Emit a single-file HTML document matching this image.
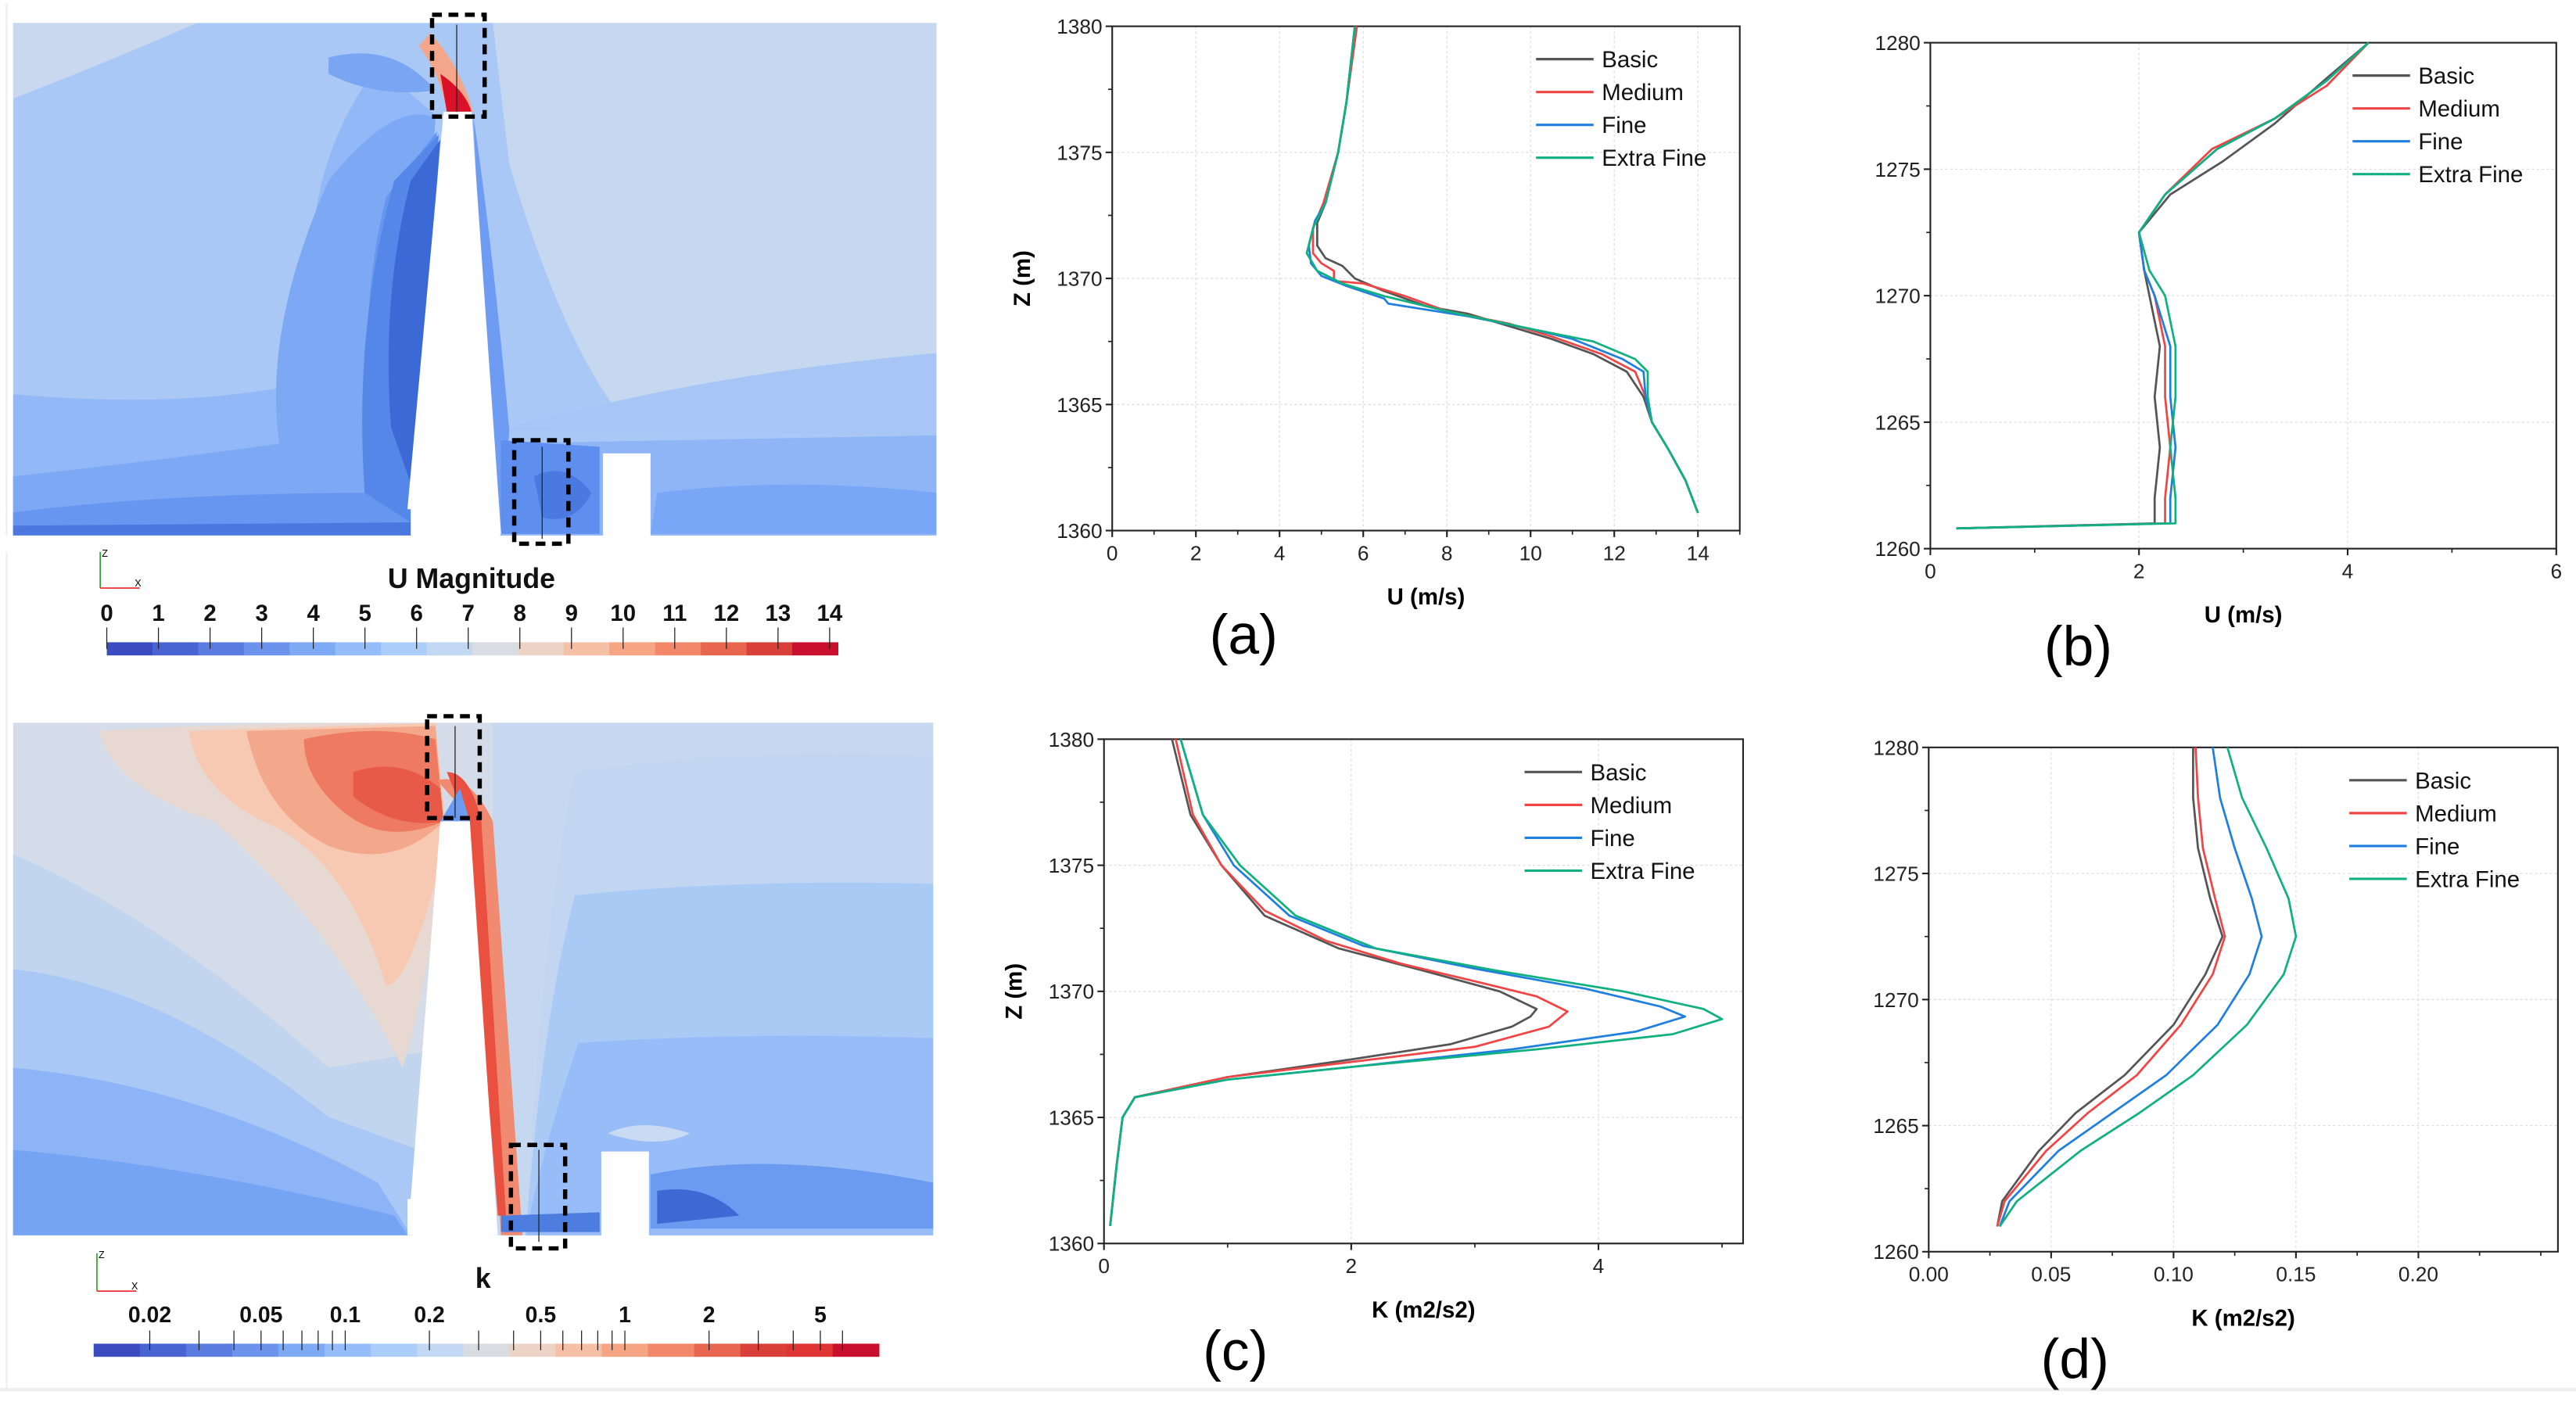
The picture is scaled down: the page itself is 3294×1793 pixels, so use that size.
<!DOCTYPE html>
<html><head><meta charset="utf-8"><style>
html,body{margin:0;padding:0;background:#fff;}
svg{display:block;}
text{font-family:"Liberation Sans",sans-serif;}
</style></head><body>
<svg id="root" width="3294" height="1793" viewBox="0 0 1568 853.5" preserveAspectRatio="none" xmlns="http://www.w3.org/2000/svg">
<rect x="0" y="0" width="1568" height="853.5" fill="#fff"/>
<line x1="4" y1="2" x2="4" y2="846" stroke="#eee" stroke-width="1"/>
<line x1="0" y1="846" x2="1568" y2="846" stroke="#eee" stroke-width="2"/>

<!-- TOP CONTOUR (U) -->
<g>
<rect x="8" y="14" width="562" height="314" fill="#a9c8f6"/>
<path d="M8 14 L120 14 Q60 40 8 60 Z" fill="#c9d8ee"/>
<path d="M300 14 L570 14 L570 215 Q460 225 372 245 Q340 200 310 100 Z" fill="#c5d8f0"/>
<path d="M372 245 Q460 225 570 215 L570 265 L300 262 Z" fill="#a7c6f5"/>
<path d="M305 270 L570 265 L570 328 L305 328 Z" fill="#8fb5f7"/>
<path d="M400 300 Q480 290 570 300 L570 325 L396 325 Z" fill="#79a6f6"/>
<path d="M8 240 Q120 250 200 230 Q170 120 230 40 L265 70 L250 328 L8 328 Z" fill="#93b8f8"/>
<path d="M8 290 Q100 280 170 270 Q160 200 200 110 Q240 60 265 72 L250 328 L8 328 Z" fill="#7ca8f4"/>
<path d="M8 312 Q100 300 230 300 Q215 200 235 120 L266 80 L250 328 L8 328 Z" fill="#6796f0"/>
<path d="M222 300 Q215 200 240 110 L267 82 L250 318 Z" fill="#5587e8"/>
<path d="M238 260 Q232 180 250 110 L268 85 L252 300 Z" fill="#3b6ad6"/>
<path d="M8 320 L250 318 L250 328 L8 328 Z" fill="#4a78de"/>
<path d="M288 70 Q300 150 310 262 L305 328 L300 328 Z" fill="#6d9cf2"/>
<path d="M305 268 L365 272 L365 325 L305 325 Z" fill="#5f8fee"/>
<path d="M325 290 Q345 280 360 300 Q350 320 330 315 Z" fill="#4a7ae0"/>
<path d="M200 35 Q240 25 265 55 Q230 60 200 45 Z" fill="#7aa5f2"/>
<path d="M262 20 Q280 40 288 68 L272 68 Q268 45 255 28 Z" fill="#f3a68a"/>
<path d="M268 45 Q283 55 287 68 L272 68 Z" fill="#d9122a"/>
<path d="M270 68 L287 68 L305 325 L303 328 L250 328 L250 310 L248 310 Z" fill="#fff"/>
<rect x="367" y="276" width="29" height="52" fill="#fff"/>
<rect x="0" y="326" width="580" height="10" fill="#fff"/>
<line x1="278" y1="15" x2="278" y2="68" stroke="#222" stroke-width="0.6"/>
<line x1="330" y1="272" x2="330" y2="328" stroke="#222" stroke-width="0.6"/>
<rect x="263" y="9" width="32" height="62" fill="none" stroke="#000" stroke-width="2.6" stroke-dasharray="6,4"/>
<rect x="313" y="268" width="33" height="63" fill="none" stroke="#000" stroke-width="2.6" stroke-dasharray="6,4"/>
</g>
<g>
<line x1="61" y1="358" x2="61" y2="336" stroke="#2a2" stroke-width="0.8"/>
<line x1="61" y1="358" x2="85" y2="358" stroke="#e22" stroke-width="0.8"/>
<text x="62" y="339" font-size="6">Z</text><text x="82" y="357" font-size="6">X</text>
</g>
<text x="287" y="358" font-size="17" font-weight="bold" text-anchor="middle" fill="#111">U Magnitude</text>
<g id="cbar1"></g>

<!-- BOTTOM CONTOUR (k) -->
<g>
<rect x="8" y="440" width="560" height="312" fill="#d3dce8"/>
<path d="M300 440 L568 440 L568 752 L300 752 Z" fill="#c6d8f0"/>
<path d="M350 470 Q450 455 568 460 L568 752 L320 752 Q330 560 350 470 Z" fill="#c2d6f2"/>
<path d="M350 545 Q450 535 568 538 L568 752 L320 752 Q330 620 350 545 Z" fill="#aacaf6"/>
<path d="M352 635 Q450 628 568 632 L568 752 L320 752 Q330 700 352 635 Z" fill="#97bcf8"/>
<path d="M396 715 Q470 700 568 720 L568 748 L396 748 Z" fill="#6b9bf0"/>
<path d="M400 725 Q430 720 450 740 L400 745 Z" fill="#3e68d3"/>
<path d="M370 690 Q390 680 420 690 Q400 700 370 690 Z" fill="#c9dbf2"/>
<path d="M8 520 Q100 560 200 650 L260 640 L250 752 L8 752 Z" fill="#c2d5ef"/>
<path d="M8 590 Q100 600 200 680 L255 700 L250 752 L8 752 Z" fill="#a9c8f6"/>
<path d="M8 650 Q120 660 230 720 L250 752 L8 752 Z" fill="#8db4f7"/>
<path d="M8 700 Q120 710 240 740 L248 752 L8 752 Z" fill="#76a4f4"/>
<path d="M60 445 Q140 440 240 440 L270 520 Q260 600 245 650 Q200 560 130 500 Q70 480 60 445 Z" fill="#e8d8d2"/>
<path d="M115 445 L265 440 L272 510 Q250 600 235 600 Q210 520 160 500 Q120 480 115 445 Z" fill="#f7c9b3"/>
<path d="M150 445 L265 442 L270 500 Q240 530 200 515 Q160 495 150 445 Z" fill="#f3a78b"/>
<path d="M185 450 Q230 440 265 450 L270 500 Q235 515 210 495 Q185 475 185 450 Z" fill="#ee7b61"/>
<path d="M215 470 Q245 460 268 480 L270 500 Q240 505 215 485 Z" fill="#e85a48"/>
<path d="M266 475 Q286 470 300 500 L318 752 L305 752 L288 500 Z" fill="#f08a70"/>
<path d="M272 470 Q286 470 293 500 L308 740 L303 740 L284 500 Z" fill="#e9503f"/>
<path d="M268 500 L280 480 L286 500 Z" fill="#6b9bf0"/>
<path d="M268 500 L286 500 L303 752 L248 752 L248 730 L250 730 Z" fill="#fff"/>
<rect x="366" y="701" width="29" height="52" fill="#fff"/>
<path d="M305 740 L365 738 L365 750 L305 750 Z" fill="#4e7de0"/>
<line x1="277" y1="442" x2="277" y2="498" stroke="#222" stroke-width="0.6"/>
<line x1="328" y1="700" x2="328" y2="756" stroke="#222" stroke-width="0.6"/>
<rect x="260" y="436" width="32" height="62" fill="none" stroke="#000" stroke-width="2.6" stroke-dasharray="6,4"/>
<rect x="311" y="697" width="33" height="63" fill="none" stroke="#000" stroke-width="2.6" stroke-dasharray="6,4"/>
</g>
<g>
<line x1="59" y1="786" x2="59" y2="763" stroke="#2a2" stroke-width="0.8"/>
<line x1="59" y1="786" x2="83" y2="786" stroke="#e22" stroke-width="0.8"/>
<text x="60" y="766" font-size="6">Z</text><text x="80" y="785" font-size="6">X</text>
</g>
<text x="294" y="784" font-size="17" font-weight="bold" text-anchor="middle" fill="#111">k</text>
<g id="cbar2"></g>

<g id="charts"></g>
<text x="757" y="398" font-size="34" text-anchor="middle">(a)</text>
<text x="1265" y="405" font-size="34" text-anchor="middle">(b)</text>
<text x="752" y="834" font-size="34" text-anchor="middle">(c)</text>
<text x="1263" y="839" font-size="34" text-anchor="middle">(d)</text>
</svg>
<script>
const NS="http://www.w3.org/2000/svg";
// ---- data ----
const seriesNames=["Basic","Medium","Fine","Extra Fine"];
const seriesColors=["#555555","#f04545","#1f7fe0","#10b080"];
const aBasic=[[14,1360.7],[13.7,1362],[13.3,1363.2],[12.9,1364.3],[12.7,1365.3],[12.3,1366.3],[11.5,1367],[10.5,1367.6],[9.5,1368.1],[8.5,1368.6],[7.5,1368.9],[6.5,1369.5],[5.8,1370],[5.5,1370.5],[5.1,1370.8],[4.9,1371.3],[4.9,1372.2],[5.1,1373],[5.4,1375],[5.6,1377],[5.8,1380]];
const aMedium=[[14,1360.7],[13.7,1362],[13.3,1363.2],[12.9,1364.3],[12.75,1365.3],[12.5,1366.3],[11.7,1367],[10.5,1367.7],[9.5,1368.2],[8,1368.7],[7,1369.3],[6,1369.8],[5.3,1369.9],[5.3,1370.3],[5,1370.6],[4.8,1371],[4.8,1372],[5.05,1373],[5.4,1375],[5.6,1377],[5.85,1380]];
const aFine=[[14,1360.7],[13.7,1362],[13.3,1363.2],[12.9,1364.3],[12.75,1365.3],[12.7,1366.3],[12.2,1366.8],[11,1367.6],[10,1368],[8.5,1368.5],[6.6,1369],[6.5,1369.2],[5.6,1369.7],[5,1370.1],[4.75,1370.6],[4.7,1371.3],[4.85,1372.3],[5.1,1373],[5.4,1375],[5.6,1377],[5.8,1380]];
const aExtra=[[14,1360.7],[13.7,1362],[13.3,1363.2],[12.9,1364.3],[12.8,1365.3],[12.8,1366.3],[12.5,1366.8],[11.5,1367.5],[10,1368],[8,1368.7],[6.5,1369.3],[5.5,1369.8],[4.9,1370.3],[4.65,1371],[4.8,1372],[5.1,1373],[5.4,1375],[5.6,1377],[5.8,1380]];
const bBasic=[[0.25,1260.8],[2.15,1261],[2.15,1262],[2.2,1264],[2.15,1266],[2.2,1268],[2.1,1270],[2.05,1271],[2.0,1272.5],[2.3,1274],[2.8,1275.3],[3.3,1276.8],[3.8,1278.6],[4.2,1280]];
const bMedium=[[0.25,1260.8],[2.25,1261],[2.25,1262],[2.3,1264],[2.25,1266],[2.25,1268],[2.15,1270],[2.05,1271],[2.0,1272.5],[2.25,1274],[2.7,1275.8],[3.3,1277],[3.8,1278.3],[4.2,1280]];
const bFine=[[0.25,1260.8],[2.3,1261],[2.3,1262],[2.35,1264],[2.3,1266],[2.3,1268],[2.15,1270],[2.05,1271],[2.0,1272.5],[2.25,1274],[2.75,1275.8],[3.3,1277],[3.8,1278.5],[4.2,1280]];
const bExtra=[[0.25,1260.8],[2.35,1261],[2.35,1262],[2.3,1264],[2.35,1266],[2.35,1268],[2.25,1270],[2.1,1271],[2.0,1272.5],[2.25,1274],[2.75,1275.8],[3.3,1277],[3.8,1278.5],[4.2,1280]];
const cBasic=[[0.05,1360.7],[0.1,1363],[0.15,1365],[0.25,1365.8],[1,1366.6],[2,1367.3],[2.8,1367.9],[3.3,1368.6],[3.45,1369],[3.5,1369.3],[3.2,1370],[2.6,1370.8],[1.9,1371.7],[1.3,1373],[0.95,1375],[0.7,1377],[0.55,1380]];
const cMedium=[[0.05,1360.7],[0.1,1363],[0.15,1365],[0.25,1365.8],[1,1366.6],[2,1367.2],[3,1367.8],[3.6,1368.6],[3.75,1369.2],[3.5,1369.8],[3,1370.4],[2.4,1371.1],[1.8,1372],[1.3,1373.2],[0.95,1375],[0.72,1377],[0.58,1380]];
const cFine=[[0.05,1360.7],[0.1,1363],[0.15,1365],[0.25,1365.8],[1,1366.5],[2,1367],[3.3,1367.7],[4.3,1368.4],[4.7,1369],[4.5,1369.4],[3.9,1370.1],[3,1370.9],[2.1,1371.8],[1.5,1373],[1.05,1375],[0.8,1377],[0.62,1380]];
const cExtra=[[0.05,1360.7],[0.1,1363],[0.15,1365],[0.25,1365.8],[1,1366.5],[2,1367],[3.5,1367.7],[4.6,1368.3],[5.0,1368.9],[4.85,1369.3],[4.2,1370],[3.2,1370.8],[2.2,1371.7],[1.55,1373],[1.1,1375],[0.8,1377],[0.62,1380]];
const dBasic=[[0.028,1261],[0.03,1262],[0.045,1264],[0.06,1265.5],[0.08,1267],[0.1,1269],[0.113,1271],[0.12,1272.5],[0.115,1274],[0.11,1276],[0.108,1278],[0.108,1280]];
const dMedium=[[0.028,1261],[0.031,1262],[0.048,1264],[0.065,1265.5],[0.085,1267],[0.103,1269],[0.116,1271],[0.121,1272.5],[0.117,1274],[0.112,1276],[0.11,1278],[0.109,1280]];
const dFine=[[0.029,1261],[0.033,1262],[0.053,1264],[0.075,1265.5],[0.097,1267],[0.118,1269],[0.131,1271],[0.136,1272.5],[0.132,1274],[0.125,1276],[0.119,1278],[0.116,1280]];
const dExtra=[[0.029,1261],[0.036,1262],[0.062,1264],[0.086,1265.5],[0.108,1267],[0.13,1269],[0.145,1271],[0.15,1272.5],[0.147,1274],[0.138,1276],[0.128,1278],[0.122,1280]];
const aXTicks=["0","2","4","6","8","10","12","14"];
const bXTicks=["0","2","4","6"];
const cXTicks=["0","2","4"];
const dXTicks=["0.00","0.05","0.10","0.15","0.20"];
const zTicksA=["1360","1365","1370","1375","1380"];
const zTicksB=["1260","1265","1270","1275","1280"];
const uBarLabels=["0","1","2","3","4","5","6","7","8","9","10","11","12","13","14"];
const kBarLabels=["0.02","0.05","0.1","0.2","0.5","1","2","5"];
const kBarValues=[0.02,0.05,0.1,0.2,0.5,1,2,5];

function el(tag,attrs,parent){const e=document.createElementNS(NS,tag);for(const k in attrs)e.setAttribute(k,attrs[k]);parent.appendChild(e);return e;}

const charts=[
 {id:"a",x0:677,x1:1059,y0:16,y1:323,xmin:0,xmax:15,ymin:1360,ymax:1380,xt:aXTicks,xminor:1,yt:zTicksA,data:[aBasic,aMedium,aFine,aExtra],xl:"U (m/s)",lx:935,ly:36,ylab:true},
 {id:"b",x0:1175,x1:1556,y0:26,y1:334,xmin:0,xmax:6,ymin:1260,ymax:1280,xt:bXTicks,xminor:1,yt:zTicksB,data:[bBasic,bMedium,bFine,bExtra],xl:"U (m/s)",lx:1432,ly:46,ylab:false},
 {id:"c",x0:672,x1:1061,y0:450,y1:757,xmin:0,xmax:5.17,ymin:1360,ymax:1380,xt:cXTicks,xminor:1,yt:zTicksA,data:[cBasic,cMedium,cFine,cExtra],xl:"K (m2/s2)",lx:928,ly:470,ylab:true},
 {id:"d",x0:1174,x1:1557,y0:455,y1:762,xmin:0,xmax:0.257,ymin:1260,ymax:1280,xt:dXTicks,xminor:0.025,yt:zTicksB,data:[dBasic,dMedium,dFine,dExtra],xl:"K (m2/s2)",lx:1430,ly:475,ylab:false}
];
const root=document.getElementById("charts");
charts.forEach(c=>{
 const g=el("g",{},root);
 
 
 const sx=v=>c.x0+(v-c.xmin)/(c.xmax-c.xmin)*(c.x1-c.x0);
 const sy=v=>c.y1-(v-c.ymin)/(c.ymax-c.ymin)*(c.y1-c.y0);
 c.yt.forEach(t=>{const v=+t;const ln=el("line",{x1:c.x0,x2:c.x1,y1:sy(v),y2:sy(v),stroke:"#ddd","stroke-width":0.6,"stroke-dasharray":"1.5,1.5"},g);});
 c.xt.forEach(t=>{const v=+t;const ln=el("line",{x1:sx(v),x2:sx(v),y1:c.y0,y2:c.y1,stroke:"#ddd","stroke-width":0.6,"stroke-dasharray":"1.5,1.5"},g);});
 const fr=el("rect",{x:c.x0,y:c.y0,width:c.x1-c.x0,height:c.y1-c.y0,fill:"none",stroke:"#222","stroke-width":1},g);
 
 
 c.xt.forEach(t=>{const v=+t;el("line",{x1:sx(v),x2:sx(v),y1:c.y1,y2:c.y1+4,stroke:"#222","stroke-width":1},g);
  const tx=el("text",{x:sx(v),y:c.y1+18,"font-size":12.5,"text-anchor":"middle",fill:"#222"},g);tx.textContent=t;
  
  });
 for(let v=c.xmin;v<=c.xmax+1e-9;v+=c.xminor){el("line",{x1:sx(v),x2:sx(v),y1:c.y1,y2:c.y1+2.5,stroke:"#222","stroke-width":0.8},g);}
 c.yt.forEach((t,i)=>{const v=+t;el("line",{x1:c.x0-4,x2:c.x0,y1:sy(v),y2:sy(v),stroke:"#222","stroke-width":1},g);
  const tx=el("text",{x:c.x0-6,y:sy(v)+4.5,"font-size":12.5,"text-anchor":"end",fill:"#222"},g);tx.textContent=t;
  
  
  if(i<c.yt.length-1)el("line",{x1:c.x0-2.5,x2:c.x0,y1:sy(v+2.5),y2:sy(v+2.5),stroke:"#222","stroke-width":0.8},g);});
 const xt=el("text",{x:(c.x0+c.x1)/2,y:c.y1+45,"font-size":14,"font-weight":"bold","text-anchor":"middle"},g);
 xt.textContent=c.xl;
 
 
 if(c.ylab){const yt=el("text",{x:0,y:0,"font-size":14,"font-weight":"bold","text-anchor":"middle",transform:`translate(${c.x0-50},${(c.y0+c.y1)/2}) rotate(-90)`},g);
  yt.textContent="Z (m)";
  
  }
 c.data.forEach((s,i)=>{const p=el("polyline",{points:s.map(d=>sx(d[0])+","+sy(d[1])).join(" "),fill:"none",stroke:seriesColors[i],"stroke-width":1.3,"stroke-linejoin":"round"},g);
  
  
  const ll=el("line",{x1:c.lx,x2:c.lx+35,y1:c.ly+i*20,y2:c.ly+i*20,stroke:seriesColors[i],"stroke-width":1.5},g);
  
  
  const lt=el("text",{x:c.lx+40,y:c.ly+i*20+5,"font-size":14,fill:"#111"},g);lt.textContent=seriesNames[i];
  
  });
});
const uCols=["#3b4cc0","#4a63d3","#5a7be0","#6b93ec","#7eaaf5","#94bdf9","#abcdfa","#c2d7f2","#d9dce2","#ecd3c6","#f6c0a6","#f6a584","#f2876a","#e8664e","#d9403a","#c8102e"];
const g1=document.getElementById("cbar1");
const bx0=65,bx1=510,nU=uCols.length;
uCols.forEach((c,i)=>{const r=el("rect",{x:bx0+i*(bx1-bx0)/nU,y:391,width:(bx1-bx0)/nU+0.3,height:8,fill:c},g1);});
uBarLabels.forEach((t,i)=>{const x=bx0+(+t)/14*(505-bx0);
 el("line",{x1:x,x2:x,y1:382,y2:395,stroke:"#222","stroke-width":0.6},g1);
 const tx=el("text",{x:x,y:378,"font-size":14,"font-weight":"bold","text-anchor":"middle",fill:"#111"},g1);tx.textContent=t;
 
 });
const kCols=["#3b4cc0","#4a63d3","#5a7be0","#6b93ec","#7eaaf5","#94bdf9","#abcdfa","#c2d7f2","#d9dce2","#ecd3c6","#f6c0a6","#f6a584","#f2876a","#e8664e","#d9403a","#e03535","#c8102e"];
const g2=document.getElementById("cbar2");
const kx0=57,kx1=535,nK=kCols.length;
kCols.forEach((c,i)=>{const r=el("rect",{x:kx0+i*(kx1-kx0)/nK,y:818,width:(kx1-kx0)/nK+0.3,height:8,fill:c},g2);});
const lmin=Math.log10(0.0126),lmax=Math.log10(8.1);
const kx=v=>kx0+(Math.log10(v)-lmin)/(lmax-lmin)*(kx1-kx0);
kBarLabels.forEach((t,i)=>{const x=kx(kBarValues[i]);
 const tx=el("text",{x:x,y:805,"font-size":13.5,"font-weight":"bold","text-anchor":"middle",fill:"#111"},g2);tx.textContent=t;
 
 });
[0.02,0.03,0.04,0.05,0.06,0.07,0.08,0.09,0.1,0.2,0.3,0.4,0.5,0.6,0.7,0.8,0.9,1,2,3,4,5,6].forEach(v=>{el("line",{x1:kx(v),x2:kx(v),y1:810,y2:822,stroke:"#222","stroke-width":0.6},g2);});
</script>
</body></html>
